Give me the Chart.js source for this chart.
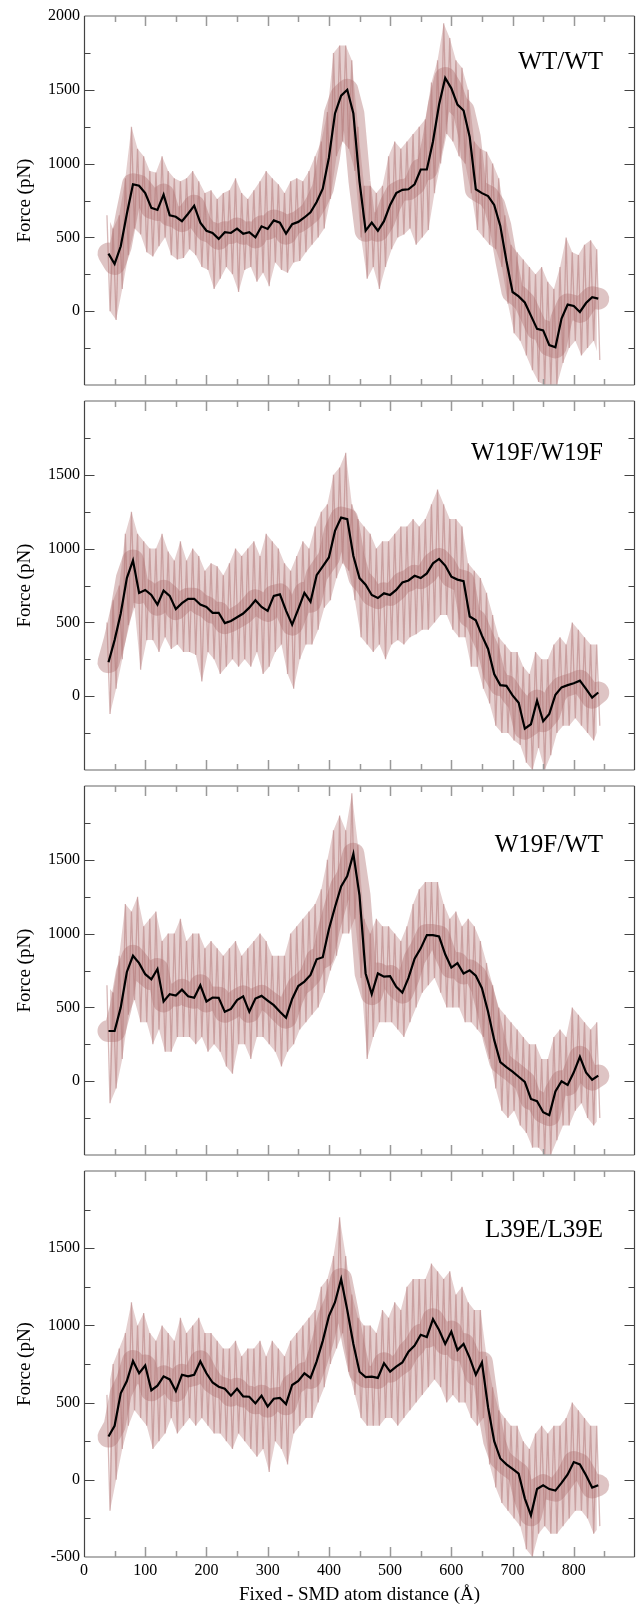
<!DOCTYPE html>
<html>
<head>
<meta charset="utf-8">
<script src="https://cdn.jsdelivr.net/npm/chart.js@4.4.1/dist/chart.umd.min.js"></script>
<style>
  html, body { margin: 0; padding: 0; background: #fff; }
  #figure { position: relative; width: 638px; height: 1606px; }
  .panel { position: absolute; left: 0; width: 638px; }
</style>
</head>
<body>
<div id="figure"></div>
<script>
// pulling distance (Å), sampled every 10 Å
const distance = [
    40, 50, 60, 70, 80, 90, 100, 110, 120, 130,
    140, 150, 160, 170, 180, 190, 200, 210, 220, 230,
    240, 250, 260, 270, 280, 290, 300, 310, 320, 330,
    340, 350, 360, 370, 380, 390, 400, 410, 420, 430,
    440, 450, 460, 470, 480, 490, 500, 510, 520, 530,
    540, 550, 560, 570, 580, 590, 600, 610, 620, 630,
    640, 650, 660, 670, 680, 690, 700, 710, 720, 730,
    740, 750, 760, 770, 780, 790, 800, 810, 820, 830,
    840,
];

// WT/WT: running average, and the upper / lower swings of the raw force
const wtMean = [
    390, 320, 440, 660, 860, 850, 800, 700, 686, 790,
    650, 640, 610, 660, 715, 600, 545, 530, 490, 535,
    530, 560, 525, 535, 500, 575, 557, 615, 600, 525,
    590, 605, 635, 670, 740, 830, 1040, 1340, 1460, 1500,
    1340, 880, 545, 600, 545, 610, 720, 800, 822, 826,
    860, 960, 960, 1150, 1400, 1580, 1510, 1400, 1360, 1180,
    826, 800, 780, 720, 578, 340, 130, 100, 59, -30,
    -120, -130, -230, -245, -50, 45, 35, -5, 55, 95,
    85,
];
const wtPeak = [
    650, 560, 650, 900, 1250, 1100, 1050, 950, 940, 1050,
    950, 900, 880, 900, 950, 880, 800, 820, 760, 800,
    820, 900, 800, 760, 820, 880, 950, 900, 860, 800,
    880, 900, 880, 950, 1050, 1150, 1350, 1750, 1800, 1800,
    1700, 1250, 850, 850, 800, 850, 1050, 1150, 1100, 1150,
    1200, 1250, 1300, 1550, 1700, 1950, 1850, 1700, 1650, 1500,
    1150, 1100, 1080, 1000, 900, 650, 450, 400, 350, 300,
    250, 300, 200, 150, 300, 500, 400, 380, 450, 480,
    420,
];
const wtTrough = [
    0, -60, 150, 380, 560, 520, 400, 370, 440, 500,
    380, 350, 360, 420, 380, 300, 280, 150, 220, 300,
    250, 130, 280, 300, 200, 260, 170, 330, 280, 260,
    330, 340, 400, 450, 500, 560, 760, 1050, 1150, 1100,
    950, 500, 220, 300, 150, 300, 420, 500, 520, 560,
    450, 500, 550, 800, 1000, 1200, 1150, 1050, 1000, 800,
    550, 500, 450, 420, 300, 50, -150, -200, -300, -400,
    -480, -500, -500, -500, -350, -250, -200, -300, -250, -200,
    -330,
];

// W19F/W19F
const w19fMean = [
    230, 380, 560, 800, 920, 700, 720, 686, 620, 715,
    680, 590, 630, 660, 660, 621, 605, 565, 565, 495,
    510, 535, 560, 600, 650, 605, 578, 680, 690, 580,
    485, 590, 700, 640, 820, 880, 940, 1120, 1210, 1200,
    950, 800, 755, 686, 665, 697, 686, 720, 770, 784,
    816, 800, 832, 900, 930, 885, 810, 790, 780, 540,
    514, 410, 320, 150, 75, 70, 5, -45, -220, -190,
    -30, -170, -120, 10, 60, 75, 88, 105, 50, -10,
    25,
];
const w19fPeak = [
    500, 650, 750, 1100, 1250, 1100, 1050, 1000, 1000, 1100,
    980, 920, 1050, 920, 1000, 950, 850, 900, 880, 820,
    900, 1000, 950, 1000, 1050, 950, 1100, 1050, 1000, 900,
    850, 950, 1050, 1000, 1150, 1250, 1300, 1500, 1550, 1650,
    1300, 1200, 1150, 1100, 1000, 1050, 1050, 1100, 1150, 1150,
    1200, 1150, 1200, 1300, 1400, 1300, 1200, 1200, 1150, 900,
    850, 800, 700, 550, 400, 350, 300, 300, 200, 150,
    300, 250, 250, 350, 400, 350, 500, 450, 400, 350,
    350,
];
const w19fTrough = [
    -120, 50, 250, 480, 600, 180, 380, 380, 300, 400,
    320, 350, 300, 300, 280, 100, 300, 250, 150, 200,
    250, 200, 250, 200, 300, 150, 200, 300, 350, 150,
    50, 250, 350, 350, 450, 600, 650, 800, 900, 850,
    650, 400, 350, 300, 350, 250, 350, 380, 350, 400,
    420, 450, 450, 500, 550, 550, 450, 400, 400, 200,
    200, 50, -50, -200, -250, -250, -300, -330, -450, -500,
    -350, -500, -400, -250, -200, -200, -150, -200, -250, -300,
    -200,
];

// W19F/WT
const mixedMean = [
    340, 340, 500, 740, 850, 800, 725, 690, 760, 540,
    590, 580, 620, 575, 565, 650, 540, 567, 565, 470,
    490, 550, 575, 470, 560, 578, 546, 515, 470, 430,
    557, 645, 675, 720, 826, 840, 1030, 1180, 1320, 1390,
    1540, 1260, 730, 590, 730, 708, 712, 640, 600, 700,
    830, 900, 990, 990, 980, 860, 770, 800, 730, 751,
    715, 630, 470, 280, 130, 95, 65, 30, -5, -120,
    -135, -210, -230, -70, 0, -25, 60, 165, 60, 10,
    38,
];
const mixedPeak = [
    650, 600, 850, 1200, 1150, 1250, 1050, 1100, 1150, 950,
    1000, 1000, 1100, 950, 1000, 1000, 900, 950, 900, 850,
    900, 950, 850, 900, 950, 1000, 950, 850, 850, 850,
    1000, 1050, 1100, 1150, 1200, 1300, 1500, 1700, 1800, 1700,
    1950, 1600, 1100, 1000, 1100, 1050, 1050, 1000, 950, 1050,
    1200, 1300, 1350, 1350, 1350, 1200, 1100, 1150, 1050, 1100,
    1050, 950, 800, 650, 500, 450, 400, 350, 300, 250,
    250, 150, 150, 300, 350, 300, 500, 450, 400, 350,
    400,
];
const mixedTrough = [
    -150, -50, 150, 450, 550, 400, 400, 250, 350, 200,
    200, 300, 300, 300, 250, 300, 200, 250, 200, 100,
    50, 250, 250, 150, 300, 300, 250, 200, 100, 200,
    250, 350, 400, 450, 500, 600, 750, 850, 1000, 1000,
    1100, 700, 150, 300, 400, 400, 400, 350, 300, 400,
    500, 600, 650, 700, 600, 500, 500, 500, 400, 400,
    350, 300, 150, -50, -200, -250, -200, -300, -350, -450,
    -450, -500, -500, -400, -300, -300, -200, -150, -250, -300,
    -250,
];

// L39E/L39E
const l39eMean = [
    280, 350, 560, 640, 770, 690, 740, 580, 610, 670,
    650, 575, 680, 670, 680, 767, 690, 630, 603, 590,
    545, 590, 540, 538, 495, 545, 474, 525, 530, 490,
    614, 640, 690, 660, 767, 900, 1060, 1150, 1300, 1100,
    880, 700, 665, 668, 660, 755, 700, 733, 760, 830,
    870, 939, 925, 1040, 970, 880, 960, 840, 880, 790,
    680, 760, 470, 250, 138, 100, 70, 40, -120, -230,
    -60, -35, -60, -70, -20, 35, 115, 100, 30, -50,
    -35,
];
const l39ePeak = [
    550, 750, 850, 950, 1150, 1000, 1080, 950, 900, 1000,
    950, 900, 1050, 950, 1000, 1050, 950, 950, 900, 850,
    850, 900, 800, 850, 850, 900, 800, 900, 850, 800,
    900, 950, 1000, 1050, 1100, 1250, 1300, 1450, 1700, 1450,
    1200, 1050, 1000, 1000, 950, 1100, 1050, 1150, 1100, 1250,
    1300, 1300, 1300, 1400, 1350, 1300, 1350, 1200, 1250, 1150,
    1100, 1100, 800, 600, 450, 400, 350, 350, 250, 200,
    300, 350, 300, 350, 350, 400, 500, 450, 400, 350,
    350,
];
const l39eTrough = [
    -200, 0, 200, 350, 450, 400, 350, 200, 250, 300,
    400, 300, 350, 400, 350, 400, 350, 300, 300, 250,
    200, 300, 250, 200, 150, 200, 50, 250, 200, 100,
    300, 350, 400, 400, 500, 600, 750, 850, 950, 700,
    550, 400, 350, 350, 350, 400, 400, 350, 400, 450,
    500, 550, 600, 650, 600, 500, 550, 500, 500, 400,
    350, 400, 100, -50, -150, -200, -250, -300, -450, -500,
    -350, -300, -350, -350, -300, -250, -200, -200, -250, -350,
    -300,
];

const panels = [
    { name: 'WT/WT', mean: wtMean, peak: wtPeak, trough: wtTrough, labelFrom: 0, labelTo: 2000 },
    { name: 'W19F/W19F', mean: w19fMean, peak: w19fPeak, trough: w19fTrough, labelFrom: 0, labelTo: 1500 },
    { name: 'W19F/WT', mean: mixedMean, peak: mixedPeak, trough: mixedTrough, labelFrom: 0, labelTo: 1500 },
    { name: 'L39E/L39E', mean: l39eMean, peak: l39ePeak, trough: l39eTrough, labelFrom: -500, labelTo: 1500 },
];

// page geometry of the stacked plot frames
const frameTop = [16, 401, 786, 1171];
const frameBottom = [401, 786, 1171, 1557];
const nameOffset = [46, 52, 59, 59];
const margin = 16;
const pageHeight = 1606;

const SERIF = '"Liberation Serif", "Times New Roman", Times, serif';
const rawColor = 'rgba(176, 114, 114, 0.5)';
const bandColor = 'rgba(176, 114, 114, 0.42)';
const hazeColor = 'rgba(190, 135, 135, 0.4)';

Chart.defaults.font.family = SERIF;
Chart.defaults.color = '#000';

// box frame with inward ticks on all four sides, plus the system name
const frameTicks = {
    id: 'frameTicks',
    afterDatasetsDraw(chart, args, opts) {
        const {ctx, chartArea: a, scales: {x, y}} = chart;
        const left = Math.round(a.left) + 0.5;
        const right = Math.round(a.right) - 0.5;
        const top = Math.round(a.top);
        const bottom = Math.round(a.bottom);

        ctx.save();
        // horizontal edges and the distance ticks
        ctx.strokeStyle = '#999';
        ctx.lineWidth = 1.5;
        ctx.beginPath();
        ctx.moveTo(left, top);
        ctx.lineTo(right, top);
        ctx.moveTo(left, bottom);
        ctx.lineTo(right, bottom);
        for (let v = 50; v < 900; v += 50) {
            const px = Math.round(x.getPixelForValue(v)) + 0.5;
            const len = v % 100 === 0 ? 10 : 6;
            ctx.moveTo(px, top);
            ctx.lineTo(px, top + len);
            ctx.moveTo(px, bottom);
            ctx.lineTo(px, bottom - len);
        }
        ctx.stroke();

        // vertical edges and the force ticks
        ctx.strokeStyle = '#444';
        ctx.lineWidth = 1.2;
        ctx.beginPath();
        ctx.moveTo(left, top);
        ctx.lineTo(left, bottom);
        ctx.moveTo(right, top);
        ctx.lineTo(right, bottom);
        for (let v = -250; v < 2000; v += 250) {
            const py = Math.round(y.getPixelForValue(v)) + 0.5;
            const len = v % 500 === 0 ? 10 : 6;
            ctx.moveTo(left, py);
            ctx.lineTo(left + len, py);
            ctx.moveTo(right, py);
            ctx.lineTo(right - len, py);
        }
        ctx.stroke();

        ctx.font = '25px ' + SERIF;
        ctx.fillStyle = '#000';
        ctx.textAlign = 'right';
        ctx.textBaseline = 'middle';
        ctx.fillText(opts.text, a.right - 32, a.top + opts.offset);
        ctx.restore();
    }
};

const figure = document.getElementById('figure');

panels.forEach((panel, i) => {
    const last = i === panels.length - 1;
    const top = frameTop[i] - margin;
    const frameHeight = frameBottom[i] - frameTop[i];
    const height = last ? pageHeight - top : frameHeight + 2 * margin;
    const axisHeight = height - margin - frameHeight;

    const box = document.createElement('div');
    box.className = 'panel';
    box.style.top = top + 'px';
    box.style.height = height + 'px';
    const canvas = document.createElement('canvas');
    box.appendChild(canvas);
    figure.appendChild(box);

    // raw force trace swings between the upper and lower excursions
    const upper = distance.map((d, k) => ({x: d - 2.5, y: panel.peak[k]}));
    const lower = distance.map((d, k) => ({x: d + 2.5, y: panel.trough[k]}));
    const trace = [];
    upper.forEach((p, k) => trace.push(p, lower[k]));
    const average = distance.map((d, k) => ({x: d, y: panel.mean[k]}));

    new Chart(canvas, {
        type: 'line',
        data: {
            datasets: [
                {
                    data: average,
                    borderColor: '#000',
                    borderWidth: 2.2,
                    pointRadius: 0,
                    tension: 0,
                    order: 0,
                },
                {
                    data: trace,
                    borderColor: rawColor,
                    borderWidth: 1.3,
                    pointRadius: 0,
                    tension: 0,
                    order: 1,
                },
                {
                    data: average,
                    borderColor: bandColor,
                    borderWidth: 22,
                    borderJoinStyle: 'round',
                    borderCapStyle: 'round',
                    pointRadius: 0,
                    tension: 0,
                    order: 2,
                },
                {
                    data: upper,
                    borderColor: 'transparent',
                    pointRadius: 0,
                    tension: 0,
                    fill: false,
                    order: 3,
                },
                {
                    data: lower,
                    borderColor: 'transparent',
                    backgroundColor: hazeColor,
                    pointRadius: 0,
                    tension: 0,
                    fill: '-1',
                    order: 4,
                },
            ],
        },
        options: {
            animation: false,
            responsive: true,
            maintainAspectRatio: false,
            events: [],
            layout: {
                padding: {
                    top: margin,
                    bottom: last ? 0 : margin,
                    left: 0,
                    right: 3,
                },
            },
            scales: {
                x: {
                    type: 'linear',
                    min: 0,
                    max: 900,
                    display: last,
                    border: {display: false},
                    grid: {display: false, drawTicks: false},
                    ticks: {
                        stepSize: 100,
                        autoSkip: false,
                        maxRotation: 0,
                        padding: 4,
                        font: {size: 16},
                        callback: (v) => (v <= 800 ? v : null),
                    },
                    title: {
                        display: true,
                        text: 'Fixed - SMD atom distance (Å)',
                        font: {size: 19},
                        padding: {top: 0, bottom: 0},
                    },
                    afterFit: (scale) => { scale.height = axisHeight; },
                },
                y: {
                    type: 'linear',
                    min: -500,
                    max: 2000,
                    border: {display: false},
                    grid: {display: false, drawTicks: false},
                    ticks: {
                        stepSize: 500,
                        autoSkip: false,
                        padding: 4,
                        font: {size: 16},
                        callback: (v) => (v >= panel.labelFrom && v <= panel.labelTo ? v : null),
                    },
                    title: {
                        display: true,
                        text: 'Force (pN)',
                        font: {size: 19},
                        padding: {top: 14, bottom: 0},
                    },
                    afterFit: (scale) => { scale.width = 84; },
                },
            },
            plugins: {
                legend: {display: false},
                tooltip: {enabled: false},
                filler: {propagate: false},
                frameTicks: {text: panel.name, offset: nameOffset[i]},
            },
        },
        plugins: [frameTicks],
    });
});
</script>
</body>
</html>
